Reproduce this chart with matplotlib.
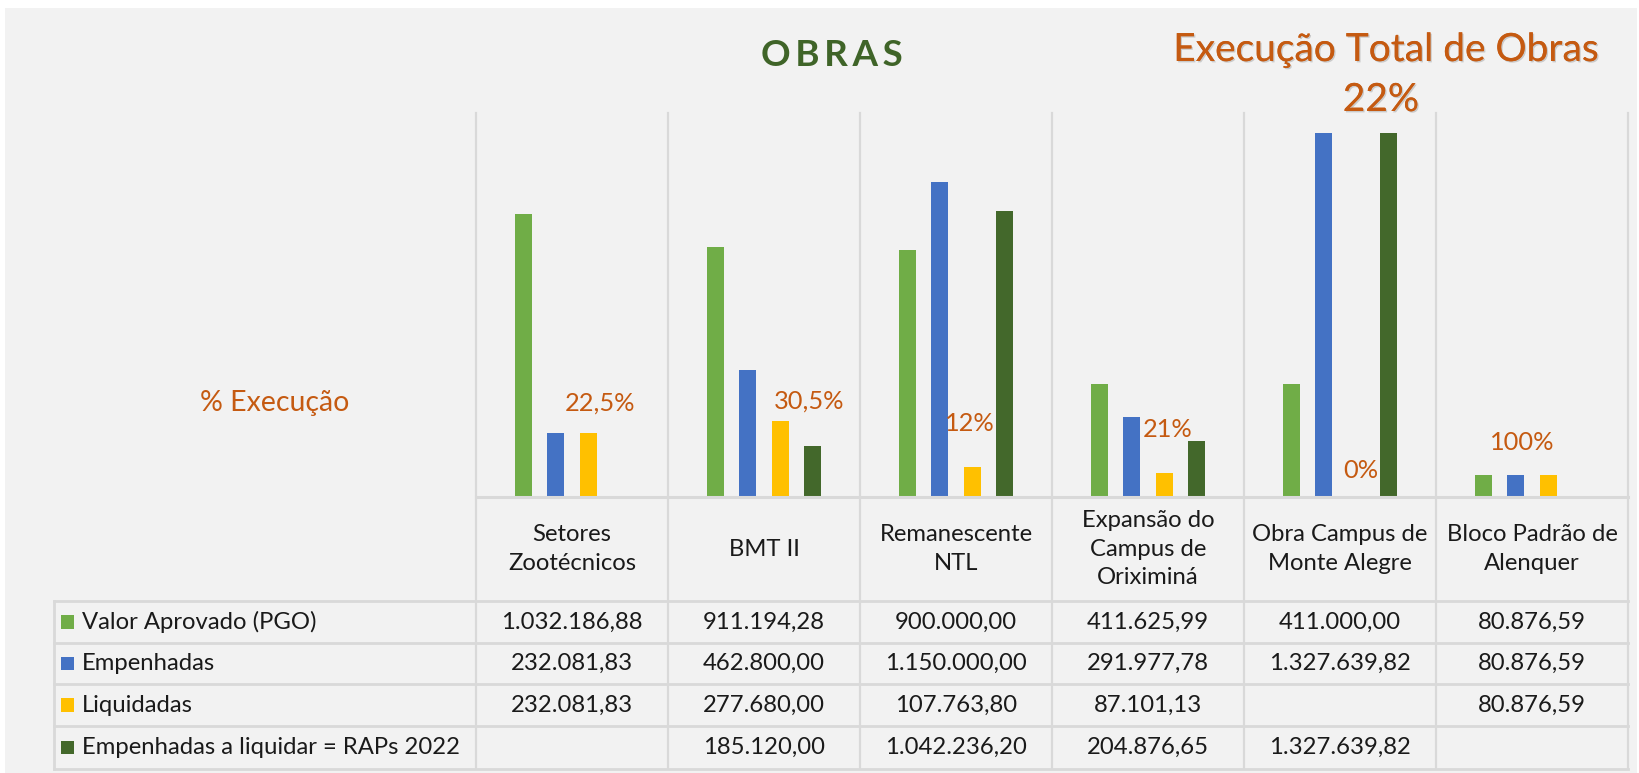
import matplotlib.pyplot as plt
import matplotlib.patheffects as pe
from matplotlib.patches import Rectangle
from matplotlib.lines import Line2D
from matplotlib.transforms import blended_transform_factory

# data
categories = ["Setores\nZootécnicos", "BMT II", "Remanescente\nNTL",
              "Expansão do\nCampus de\nOriximiná", "Obra Campus de\nMonte Alegre",
              "Bloco Padrão de\nAlenquer"]
series_names = ["Valor Aprovado (PGO)", "Empenhadas", "Liquidadas",
                "Empenhadas a liquidar = RAPs 2022"]
valor_aprovado = [1032186.88, 911194.28, 900000.00, 411625.99, 411000.00, 80876.59]
empenhadas = [232081.83, 462800.00, 1150000.00, 291977.78, 1327639.82, 80876.59]
liquidadas = [232081.83, 277680.00, 107763.80, 87101.13, None, 80876.59]
raps_2022 = [None, 185120.00, 1042236.20, 204876.65, 1327639.82, None]
pct_labels = ["22,5%", "30,5%", "12%", "21%", "0%", "100%"]

colors = ["#70AD47", "#4472C4", "#FFC000", "#43682B"]
orange = "#C55A11"
grid_c = "#D9D9D9"
W, H = 1640, 773
FONT = ["Lato", "DejaVu Sans"]
TS = 17.2  # table font size


def br(v):
    if v is None:
        return ""
    s = f"{v:,.2f}"
    return s.replace(",", "#").replace(".", ",").replace("#", ".")


def fx(px):
    return px / W


def fy(py):
    return 1 - py / H


fig = plt.figure(figsize=(W / 100, H / 100), dpi=100)
fig.patch.set_facecolor("white")
fig.patches.append(Rectangle((fx(5), 0), fx(1637 - 5), fy(8), transform=fig.transFigure,
                             facecolor="#F2F2F2", edgecolor="none", zorder=-10))

x0, x1 = 476, 1628
y_top, y_base = 113, 497
ax = fig.add_axes([fx(x0), fy(y_base), fx(x1 - x0), (y_base - y_top) / H])
ax.set_facecolor("none")
n = len(categories)
ax.set_xlim(-0.5, n - 0.5)
ax.set_ylim(0, 1400000)
ax.axis("off")

all_series = [valor_aprovado, empenhadas, liquidadas, raps_2022]
bw = 0.088
step = 0.168
offsets = [-1.5 * step, -0.5 * step, 0.5 * step, 1.5 * step]
for s, vals in enumerate(all_series):
    xs = [i + offsets[s] for i in range(n) if vals[i] is not None]
    hs = [v for v in vals if v is not None]
    ax.bar(xs, hs, width=bw, color=colors[s], zorder=3)

# percentage labels above the Liquidadas bars (offsets in pixels)
lab_off = [(12, 30), (29, 20), (-2, 44), (3, 44), (5, 26), (-26, 32)]
for i, t in enumerate(pct_labels):
    v = liquidadas[i] if liquidadas[i] is not None else 0
    ax.annotate(t, (i + offsets[2], v), xytext=lab_off[i], textcoords="offset pixels",
                ha="center", va="center", color=orange, fontsize=18.3, family=FONT,
                annotation_clip=False, zorder=5)

# grid / table lines
bt = blended_transform_factory(ax.transData, fig.transFigure)
row_y = [601, 643, 684, 726, 769]
for b in range(n + 1):
    fig.add_artist(Line2D([b - 0.5, b - 0.5], [fy(y_top), fy(row_y[-1])], transform=bt,
                          color=grid_c, lw=1.6, zorder=1))
fig.add_artist(Line2D([fx(x0), fx(x1)], [fy(y_base), fy(y_base)], transform=fig.transFigure,
                      color=grid_c, lw=2.2, zorder=1))
for yy in row_y:
    fig.add_artist(Line2D([fx(54), fx(x1)], [fy(yy), fy(yy)], transform=fig.transFigure,
                          color=grid_c, lw=2.0, zorder=1))
fig.add_artist(Line2D([fx(54), fx(54)], [fy(row_y[0]), fy(row_y[-1])], transform=fig.transFigure,
                      color=grid_c, lw=2.0, zorder=1))

# header row with category names
for i, c in enumerate(categories):
    fig.text(i, fy(549), c, transform=bt, ha="center", va="center", fontsize=TS,
             family=FONT, color="#1a1a1a", linespacing=1.43)

# table body
for r, vals in enumerate(all_series):
    yc = fy((row_y[r] + row_y[r + 1]) / 2)
    fig.patches.append(Rectangle((fx(61), yc - 0.009), fx(13), 0.018, transform=fig.transFigure,
                                 facecolor=colors[r], edgecolor="none"))
    fig.text(fx(82), yc, series_names[r], ha="left", va="center", fontsize=TS,
             family=FONT, color="#1a1a1a")
    for i, v in enumerate(vals):
        fig.text(i, yc, br(v), transform=bt, ha="center", va="center", fontsize=TS,
                 family=FONT, color="#1a1a1a")

shadow = [pe.withSimplePatchShadow(offset=(1, -1), shadow_rgbFace="gray", alpha=0.35), pe.Normal()]
fig.text(fx(832), fy(55), "\u2009".join("OBRAS"), ha="center", va="center", fontsize=26.5,
         fontweight="bold", family=FONT, color="#3F6428")
fig.text(fx(1386), fy(50), "Execução Total de Obras", ha="center", va="center", fontsize=28,
         family=FONT, color=orange, path_effects=shadow)
fig.text(fx(1381), fy(100), "22%", ha="center", va="center", fontsize=28,
         family=FONT, color=orange, path_effects=shadow)
fig.text(fx(275), fy(403), "% Execução", ha="center", va="center", fontsize=20.5,
         family=FONT, color=orange)

fig.savefig("out.png", dpi=100)
